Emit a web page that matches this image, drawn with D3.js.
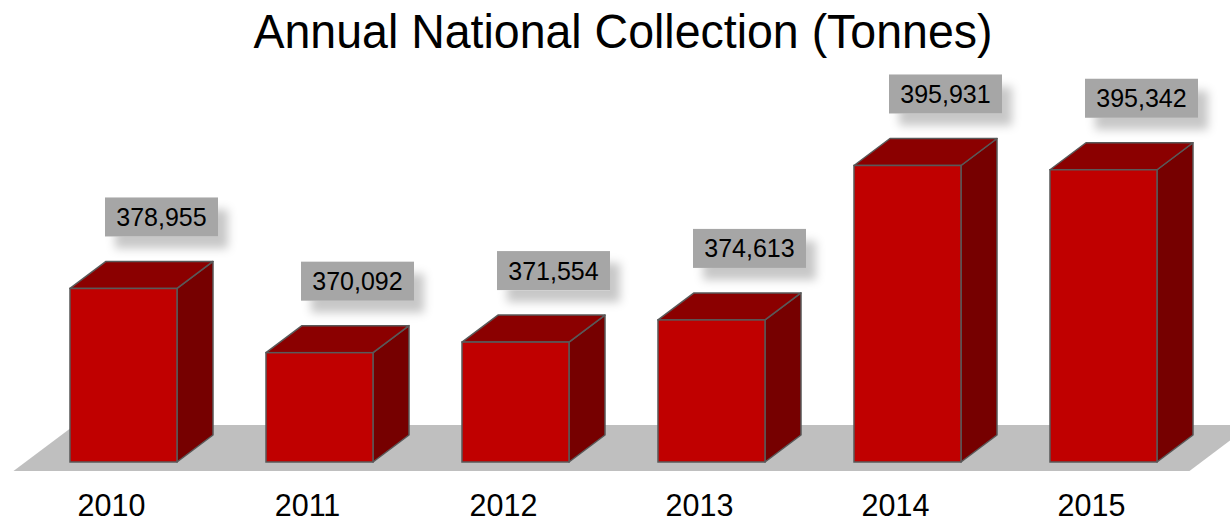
<!DOCTYPE html>
<html>
<head>
<meta charset="utf-8">
<script src="https://cdn.jsdelivr.net/npm/d3@7"></script>
<style>
  body { margin: 0; background: #fff; }
  svg { display: block; font-family: "Liberation Sans", Arial, sans-serif; }
</style>
</head>
<body>
<svg id="chart"></svg>
<script>
const years = ["2010", "2011", "2012", "2013", "2014", "2015"];
const tonnes = [378955, 370092, 371554, 374613, 395931, 395342];
const yDomain = [355000, 400000];

const width = 1230, height = 520;
const baseY = 462;          // front bottom edge of the bars
const depthX = 36, depthY = 27;

const svg = d3.select('#chart')
    .attr('width', width)
    .attr('height', height);

// drop shadow for the value labels
const defs = svg.append('defs');
defs.append('filter')
    .attr('id', 'shadow')
    .attr('x', '-30%').attr('y', '-30%')
    .attr('width', '170%').attr('height', '190%')
  .append('feDropShadow')
    .attr('dx', 10).attr('dy', 12)
    .attr('stdDeviation', 5)
    .attr('flood-color', '#000')
    .attr('flood-opacity', 0.22);

const x = d3.scaleBand()
    .domain(years)
    .range([25.5, 1201.5])
    .paddingInner(0.454)
    .paddingOuter(0.227);

const y = d3.scaleLinear()
    .domain(yDomain)
    .range([baseY, 136]);

const data = years.map((yr, i) => ({year: yr, value: tonnes[i]}));

// title
svg.append('text')
    .attr('x', 623)
    .attr('y', 48)
    .attr('text-anchor', 'middle')
    .attr('transform', 'translate(0,48) scale(1,1.04) translate(0,-48)')
    .style('font-size', '46.5px')
    .style('fill', '#000')
    .text('Annual National Collection (Tonnes)');

// floor
const r = x.range();
const fFront = -depthY / 3, fBack = depthY * 1.37;
const fk = depthX / depthY;
const floorPts = [
  [r[0] + fFront * fk, baseY - fFront],
  [r[1] + fFront * fk, baseY - fFront],
  [r[1] + fBack * fk, baseY - fBack],
  [r[0] + fBack * fk, baseY - fBack]
];
svg.append('polygon')
    .attr('points', floorPts.map(p => p.join(',')).join(' '))
    .attr('fill', '#bfbfbf');

// bars
const bars = svg.append('g').selectAll('g')
    .data(data)
    .enter()
    .append('g');

const bw = x.bandwidth();
const stroke = '#595959';

bars.append('polygon') // side
    .attr('points', d => {
      const x1 = x(d.year) + bw, yt = y(d.value);
      return [[x1, yt], [x1 + depthX, yt - depthY], [x1 + depthX, baseY - depthY], [x1, baseY]]
        .map(p => p.join(',')).join(' ');
    })
    .attr('fill', '#760000')
    .attr('stroke', stroke).attr('stroke-width', 1.5).attr('stroke-linejoin', 'round');

bars.append('polygon') // top
    .attr('points', d => {
      const x0 = x(d.year), yt = y(d.value);
      return [[x0, yt], [x0 + depthX, yt - depthY], [x0 + bw + depthX, yt - depthY], [x0 + bw, yt]]
        .map(p => p.join(',')).join(' ');
    })
    .attr('fill', '#8b0000')
    .attr('stroke', stroke).attr('stroke-width', 1.5).attr('stroke-linejoin', 'round');

bars.append('rect') // front
    .attr('x', d => x(d.year))
    .attr('y', d => y(d.value))
    .attr('width', bw)
    .attr('height', d => baseY - y(d.value))
    .attr('fill', '#c00000')
    .attr('stroke', stroke).attr('stroke-width', 1.5);

// value labels
const fmt = d3.format(',');
const boxW = 113, boxH = 39;
const labels = svg.append('g').selectAll('g')
    .data(data)
    .enter()
    .append('g')
    .attr('transform', d => 'translate(' + (x(d.year) + bw / 2 + 38) + ',' + (y(d.value) - 52 - boxH / 2) + ')');

labels.append('rect')
    .attr('x', -boxW / 2)
    .attr('y', -boxH / 2)
    .attr('width', boxW)
    .attr('height', boxH)
    .attr('fill', '#a6a6a6')
    .attr('filter', 'url(#shadow)');

labels.append('text')
    .attr('text-anchor', 'middle')
    .attr('y', 9)
    .style('font-size', '25px')
    .style('fill', '#000')
    .text(d => fmt(d.value));

// category labels
svg.append('g').selectAll('text')
    .data(data)
    .enter()
    .append('text')
    .attr('x', d => x(d.year) + bw / 2 - 12)
    .attr('y', 516)
    .attr('text-anchor', 'middle')
    .style('font-size', '30.5px')
    .style('fill', '#000')
    .text(d => d.year);
</script>
</body>
</html>
